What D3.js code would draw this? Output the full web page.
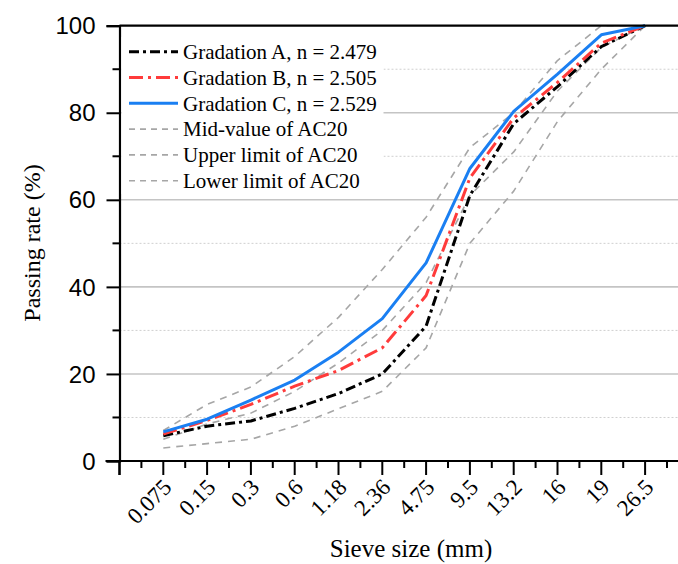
<!DOCTYPE html>
<html>
<head>
<meta charset="utf-8">
<script src="https://cdn.jsdelivr.net/npm/d3@7"></script>
<style>
  html, body { margin: 0; padding: 0; background: #fff; }
  svg { display: block; }
</style>
</head>
<body>
<div id="chart"></div>
<script>
// Sieve sizes (mm) and passing rates (%)
const sieves = ["0.075", "0.15", "0.3", "0.6", "1.18", "2.36", "4.75", "9.5", "13.2", "16", "19", "26.5"];
const gradA = [5.8, 8.0, 9.2, 12.1, 15.5, 20.0, 31.0, 61.0, 77.5, 86.0, 95.2, 100];
const gradB = [6.2, 9.3, 13.0, 17.2, 20.8, 26.0, 38.0, 65.0, 78.8, 87.0, 96.0, 100];
const gradC = [6.7, 9.6, 14.0, 18.6, 25.0, 32.7, 45.5, 67.2, 80.3, 88.9, 97.9, 100];
const midAC20 = [5, 8.5, 11, 16, 22.5, 30, 41, 61, 71, 85, 95, 100];
const upperAC20 = [7, 13, 17, 24, 33, 44, 56, 72, 80, 92, 100, 100];
const lowerAC20 = [3, 4, 5, 8, 12, 16, 26, 50, 62, 78, 90, 100];
const yTicks = [0, 20, 40, 60, 80, 100];
const legendLabels = ["Gradation A, n = 2.479", "Gradation B, n = 2.505", "Gradation C, n = 2.529",
  "Mid-value of AC20", "Upper limit of AC20", "Lower limit of AC20"];

const W = 678, H = 564;
const svg = d3.select("#chart").append("svg").attr("width", W).attr("height", H);

const x0 = 119.5, step = 43.8;
const x = d3.scaleLinear().domain([0, 13]).range([x0, x0 + 13 * step]);
const y = d3.scaleLinear().domain([0, 100]).range([461, 25.7]);
const xRight = W;
const serif = "Liberation Serif, Times New Roman, serif";

// grid lines
const grid = svg.append("g");
grid.selectAll("line.minor").data(d3.range(10, 100, 20)).join("line")
  .attr("x1", x0).attr("x2", xRight).attr("y1", d => y(d)).attr("y2", d => y(d))
  .attr("stroke", "#cfcfcf").attr("stroke-width", 1).attr("stroke-dasharray", "2,2");
grid.selectAll("line.major").data([20, 40, 60, 80]).join("line")
  .attr("x1", x0).attr("x2", xRight).attr("y1", d => y(d)).attr("y2", d => y(d))
  .attr("stroke", "#c4c4c4").attr("stroke-width", 1.6);

const line = d3.line().x((d, i) => x(i + 1)).y(d => y(d));

const series = [
  { vals: midAC20, color: "#a6a6a6", width: 1.6, dash: "7,6" },
  { vals: upperAC20, color: "#a6a6a6", width: 1.6, dash: "7,6" },
  { vals: lowerAC20, color: "#a6a6a6", width: 1.6, dash: "7,6" },
  { vals: gradA, color: "#000000", width: 3, dash: "10,4,3,4" },
  { vals: gradB, color: "#ff3b3b", width: 3, dash: "14,5,3,5" },
  { vals: gradC, color: "#1a7ff2", width: 3, dash: null }
];

svg.append("g").selectAll("path").data(series).join("path")
  .attr("d", d => line(d.vals))
  .attr("fill", "none")
  .attr("stroke", d => d.color)
  .attr("stroke-width", d => d.width)
  .attr("stroke-dasharray", d => d.dash)
  .attr("stroke-linejoin", "round");

// top border
svg.append("line").attr("x1", x0).attr("x2", xRight).attr("y1", y(100)).attr("y2", y(100))
  .attr("stroke", "#000").attr("stroke-width", 2.2);

// y axis
const yAxis = d3.axisLeft(y).tickValues(yTicks).tickSize(13).tickFormat(d3.format("d"));
const gy = svg.append("g").attr("transform", `translate(${x0},0)`).call(yAxis);
gy.select(".domain").attr("stroke-width", 2.2);
gy.selectAll(".tick line").attr("stroke-width", 2);
gy.selectAll(".tick text").attr("font-family", "Liberation Sans, Arial, sans-serif")
  .attr("font-size", 24).attr("fill", "#000").attr("dx", -8).attr("dy", "0.34em");
gy.selectAll(".minor").data(d3.range(10, 100, 20)).join("line")
  .attr("x1", -7).attr("x2", 0).attr("y1", d => y(d)).attr("y2", d => y(d))
  .attr("stroke", "#000").attr("stroke-width", 2);
// extend y axis downward to meet the first x tick
gy.append("line").attr("x1", 0).attr("x2", 0).attr("y1", y(0)).attr("y2", y(0) + 14)
  .attr("stroke", "#000").attr("stroke-width", 2.2);

// x axis
const gx = svg.append("g").attr("transform", `translate(0,${y(0)})`);
gx.append("line").attr("x1", x0 - 14).attr("x2", xRight).attr("y1", 0).attr("y2", 0)
  .attr("stroke", "#000").attr("stroke-width", 2.2);
gx.selectAll("line.maj").data(d3.range(0, 14)).join("line")
  .attr("x1", d => x(d)).attr("x2", d => x(d)).attr("y1", 0).attr("y2", 14)
  .attr("stroke", "#000").attr("stroke-width", 2);
gx.selectAll("line.min").data(d3.range(0.5, 13, 1)).join("line")
  .attr("x1", d => x(d)).attr("x2", d => x(d)).attr("y1", 0).attr("y2", 7)
  .attr("stroke", "#000").attr("stroke-width", 2);
gx.selectAll("text").data(sieves).join("text")
  .attr("transform", (d, i) => `translate(${x(i + 1) + 4},${22}) rotate(-45)`)
  .attr("text-anchor", "end")
  .attr("font-family", serif)
  .attr("font-size", 23)
  .attr("dy", "0.35em")
  .text(d => d);

// axis titles
svg.append("text")
  .attr("x", 411).attr("y", 557)
  .attr("text-anchor", "middle")
  .attr("font-family", serif)
  .attr("font-size", 25)
  .text("Sieve size (mm)");
svg.append("text")
  .attr("transform", "translate(40,243) rotate(-90)")
  .attr("text-anchor", "middle")
  .attr("font-family", serif)
  .attr("font-size", 24)
  .text("Passing rate (%)");

// legend
const legendOrder = [3, 4, 5, 0, 1, 2];
const lg = svg.append("g");
lg.append("rect").attr("x", x0 + 2).attr("y", 37).attr("width", 262).attr("height", 157).attr("fill", "#fff");
legendLabels.forEach((lab, k) => {
  const s = series[legendOrder[k]];
  const cy = 51.7 + k * 25.8;
  lg.append("line").attr("x1", 129).attr("x2", 178).attr("y1", cy).attr("y2", cy)
    .attr("stroke", s.color).attr("stroke-width", s.width)
    .attr("stroke-dasharray", s.dash ? (k >= 3 ? "6,5" : s.dash) : null);
  lg.append("text").attr("x", 183).attr("y", cy).attr("dy", "0.35em")
    .attr("font-family", serif)
    .attr("font-size", 21)
    .text(lab);
});
</script>
</body>
</html>
